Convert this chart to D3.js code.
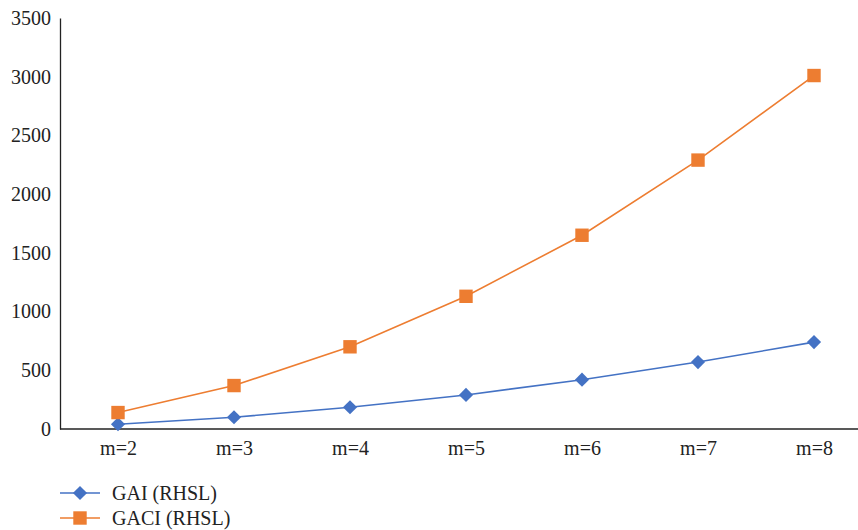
<!DOCTYPE html>
<html>
<head>
<meta charset="utf-8">
<script src="https://cdn.jsdelivr.net/npm/d3@7"></script>
<style>
  html, body { margin: 0; padding: 0; background: #fff; }
</style>
</head>
<body>
<svg id="chart" width="858" height="530"></svg>
<script>
const categories = ["m=2", "m=3", "m=4", "m=5", "m=6", "m=7", "m=8"];
const gaiValues  = [40, 100, 185, 290, 420, 570, 740];
const gaciValues = [140, 370, 700, 1130, 1650, 2290, 3010];
const yTicks = [0, 500, 1000, 1500, 2000, 2500, 3000, 3500];
const seriesNames = ["GAI (RHSL)", "GACI (RHSL)"];

const FONT = "\"Liberation Serif\"";
const svg = d3.select("#chart");
const plotLeft = 60, plotTop = 18, plotBottom = 429;

const x = d3.scalePoint().domain(categories).range([118, 814]);
const y = d3.scaleLinear().domain([0, 3500]).range([plotBottom, plotTop]);

// y axis
const yAxis = svg.append("g")
  .attr("transform", `translate(${plotLeft},0)`)
  .call(d3.axisLeft(y).tickValues(yTicks).tickFormat(d3.format("d")).tickSize(0).tickPadding(9));
yAxis.attr("font-family", null);
yAxis.select(".domain").attr("stroke", "#222").attr("stroke-width", 1.3);
yAxis.selectAll("text").style("font-family", FONT).style("font-size", "20px").attr("fill", "#222");

// x axis
const xAxis = svg.append("g")
  .attr("transform", `translate(0,${plotBottom})`)
  .call(d3.axisBottom(x).tickSize(0).tickPadding(12));
xAxis.attr("font-family", null);
xAxis.select(".domain").attr("d", `M${plotLeft},0H858`).attr("stroke", "#222").attr("stroke-width", 1.3);
xAxis.selectAll("text").style("font-family", FONT).style("font-size", "20px").attr("fill", "#222");

const line = d3.line().x((d, i) => x(categories[i])).y(d => y(d));

// diamond = square rotated 45 degrees
const series = [
  { name: seriesNames[0], values: gaiValues, color: "#4472C4", size: 100, rot: 45 },
  { name: seriesNames[1], values: gaciValues, color: "#ED7D31", size: 180, rot: 0 }
];

series.forEach(s => {
  svg.append("path")
    .datum(s.values)
    .attr("fill", "none")
    .attr("stroke", s.color)
    .attr("stroke-width", 1.6)
    .attr("d", line);
  svg.append("g").selectAll("path")
    .data(s.values)
    .join("path")
    .attr("transform", (d, i) => `translate(${x(categories[i])},${y(d)}) rotate(${s.rot})`)
    .attr("d", d3.symbol().type(d3.symbolSquare).size(s.size))
    .attr("fill", s.color);
});

// legend
const legend = svg.append("g");
series.forEach((s, i) => {
  const ly = 493 + i * 25;
  legend.append("line")
    .attr("x1", 60).attr("x2", 100).attr("y1", ly).attr("y2", ly)
    .attr("stroke", s.color).attr("stroke-width", 1.6);
  legend.append("path")
    .attr("transform", `translate(80,${ly}) rotate(${s.rot})`)
    .attr("d", d3.symbol().type(d3.symbolSquare).size(s.size))
    .attr("fill", s.color);
  legend.append("text")
    .attr("x", 112).attr("y", ly).attr("dy", "0.35em")
    .style("font-family", FONT)
    .style("font-size", "20px")
    .attr("fill", "#222")
    .text(s.name);
});
</script>
</body>
</html>
